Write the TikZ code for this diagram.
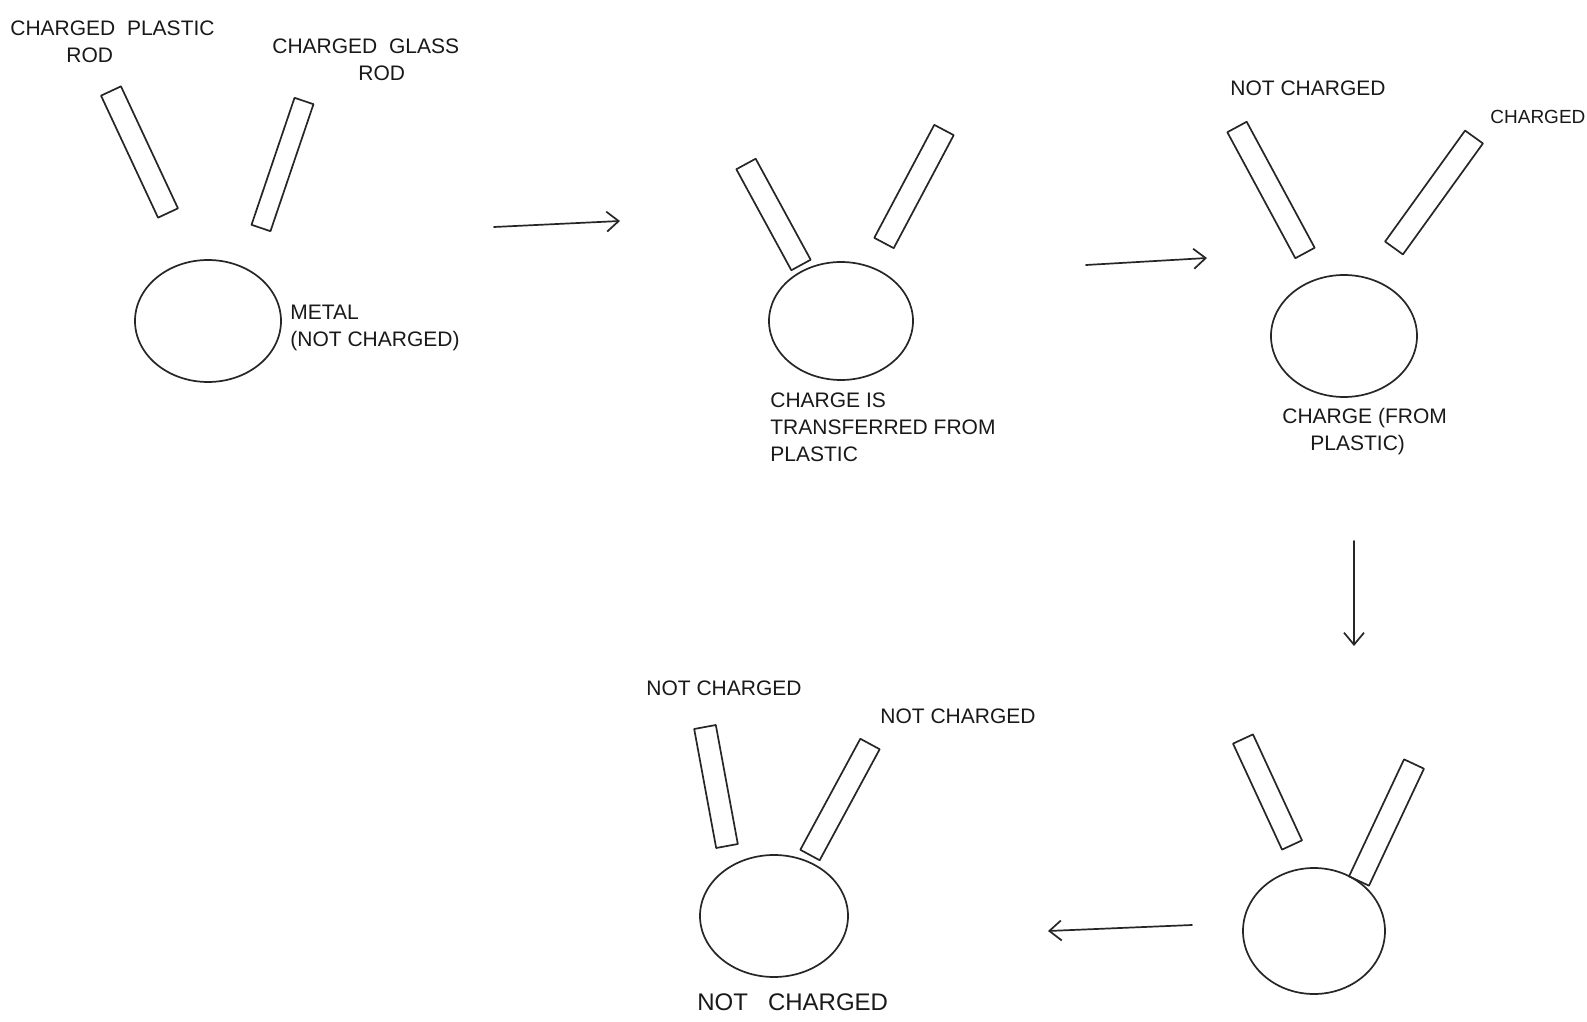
\documentclass[tikz,border=0pt]{standalone}
\usepackage{fontspec}
\setmainfont{Liberation Sans}
\usetikzlibrary{calc,arrows.meta,shapes.geometric}
\tikzset{
  pencil/.style={draw=black!85, line width=0.85pt, line join=round, line cap=round},
  ball/.style={pencil, ellipse, inner sep=0pt},
  lbl/.style={font=\fontsize{10.5}{13.5}\selectfont, text=black!90, align=left, inner sep=0pt, anchor=north west},
  flow/.style={pencil, -{Straight Barb[length=6pt,width=10pt,line width=0.85pt]}},
}
\newcommand{\myrod}[3]{%
  \draw[pencil] ($(#1)!#3!90:(#2)$) -- ($(#2)!#3!-90:(#1)$) -- ($(#2)!#3!90:(#1)$) -- ($(#1)!#3!-90:(#2)$) -- cycle;}
\begin{document}
\begin{tikzpicture}[x=0.5pt,y=-0.5pt]
\useasboundingbox (0,0) rectangle (1587,1022);
\fill[white] (0,0) rectangle (1587,1022);

% ---- panel 1
\coordinate (p1a) at (111,91);  \coordinate (p1b) at (168,213);
\coordinate (g1a) at (304,101); \coordinate (g1b) at (261,228);
\myrod{p1a}{p1b}{5.5pt}
\myrod{g1a}{g1b}{5pt}
\node[ball, minimum width=73pt, minimum height=61pt] (b1) at (208,321) {};
\node[lbl] (t1) at (10,20) {CHARGED \ PLASTIC\\[0pt]\hspace*{28pt}ROD};
\node[lbl] (t2) at (272,38) {CHARGED\ \ GLASS\\[0pt]\hspace*{43pt}ROD};
\node[lbl] (t3) at (290,305) {METAL\\(NOT CHARGED)};

% ---- panel 2
\coordinate (p2a) at (746,164); \coordinate (p2b) at (801,265);
\coordinate (g2a) at (944,130); \coordinate (g2b) at (884,243);
\myrod{p2a}{p2b}{5.5pt}
\myrod{g2a}{g2b}{5.5pt}
\node[ball, minimum width=72pt, minimum height=59pt] (b2) at (841,321) {};
\node[lbl] (t4) at (770,392) {CHARGE IS\\TRANSFERRED FROM\\PLASTIC};

% ---- panel 3
\coordinate (p3a) at (1237,127); \coordinate (p3b) at (1305,253);
\coordinate (g3a) at (1474,137); \coordinate (g3b) at (1394,248);
\myrod{p3a}{p3b}{5.5pt}
\myrod{g3a}{g3b}{5.5pt}
\node[ball, minimum width=73pt, minimum height=61pt] (b3) at (1344,336) {};
\node[lbl] (t5) at (1230,80) {NOT CHARGED};
\node[lbl, font=\fontsize{9.5}{12}\selectfont] (t6) at (1490,110) {CHARGED};
\node[lbl] (t7) at (1282,408) {CHARGE (FROM\\\hspace*{14pt}PLASTIC)};

% ---- panel 4
\coordinate (p4a) at (1243,739); \coordinate (p4b) at (1292,845);
\coordinate (g4a) at (1414,764); \coordinate (g4b) at (1359,881);
\myrod{p4a}{p4b}{5.5pt}
\myrod{g4a}{g4b}{5.5pt}
\node[ball, minimum width=71pt, minimum height=63pt] (b4) at (1314,931) {};

% ---- panel 5
\coordinate (p5a) at (705,727); \coordinate (p5b) at (727,846);
\coordinate (g5a) at (870,744); \coordinate (g5b) at (810,855);
\myrod{p5a}{p5b}{5.5pt}
\myrod{g5a}{g5b}{5.5pt}
\node[ball, minimum width=74pt, minimum height=61pt] (b5) at (774,916) {};
\node[lbl] (t8) at (646,680) {NOT CHARGED};
\node[lbl] (t9) at (880,708) {NOT CHARGED};
\node[lbl, font=\fontsize{12}{14}\selectfont] (t10) at (697,993) {NOT\ \ \ CHARGED};

% ---- flow arrows
\coordinate (a1s) at (494,227); \coordinate (a1e) at (620,221);
\coordinate (a2s) at (1086,265); \coordinate (a2e) at (1207,258);
\coordinate (a3s) at (1354,541); \coordinate (a3e) at (1354,646);
\coordinate (a4s) at (1192,925); \coordinate (a4e) at (1048,931);
\draw[flow] (a1s) -- (a1e);
\draw[flow] (a2s) -- (a2e);
\draw[flow] (a3s) -- (a3e);
\draw[flow] (a4s) -- (a4e);
\end{tikzpicture}
\end{document}
